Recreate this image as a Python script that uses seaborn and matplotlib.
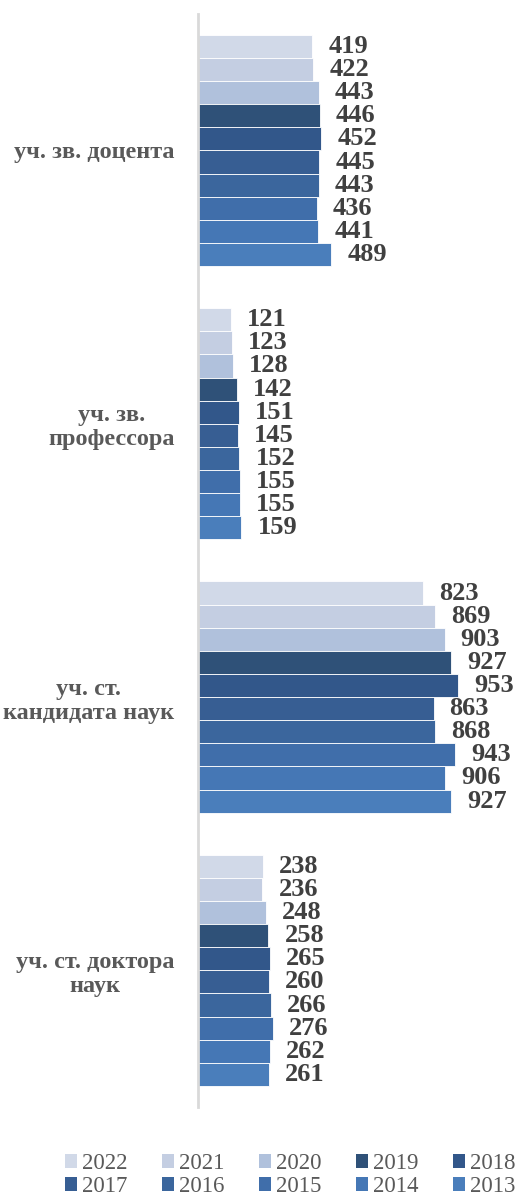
import matplotlib
matplotlib.use("Agg")
import matplotlib.pyplot as plt
from matplotlib.patches import Patch
import seaborn as sns
import pandas as pd

categories = ["уч. зв. доцента", "уч. зв.\nпрофессора", "уч. ст.\nкандидата наук", "уч. ст. доктора\nнаук"]
years = ["2022", "2021", "2020", "2019", "2018", "2017", "2016", "2015", "2014", "2013"]
values = {
    "2022": [419, 121, 823, 238],
    "2021": [422, 123, 869, 236],
    "2020": [443, 128, 903, 248],
    "2019": [446, 142, 927, 258],
    "2018": [452, 151, 953, 265],
    "2017": [445, 145, 863, 260],
    "2016": [443, 152, 868, 266],
    "2015": [436, 155, 943, 276],
    "2014": [441, 155, 906, 262],
    "2013": [489, 159, 927, 261],
}
colors = ["#D1D9E8", "#C4CEE2", "#B0C1DC", "#2F5178", "#32578A",
          "#375E93", "#3B669D", "#406EAA", "#4577B5", "#4A7EBB"]

rows = []
for y in years:
    for c, v in zip(categories, values[y]):
        rows.append({"cat": c, "year": y, "value": v})
df = pd.DataFrame(rows)

sns.set_theme(style="white")
plt.rcParams["font.family"] = ["Liberation Serif", "DejaVu Serif"]

fig = plt.figure(figsize=(5.17, 11.98), dpi=100)
ax = fig.add_axes([198/517, 1 - 1107/1198, 1 - 198/517, (1107 - 13.8)/1198])

palette = dict(zip(years, colors))
sns.barplot(data=df, y="cat", x="value", hue="year", hue_order=years, order=categories,
            palette=palette, saturation=1, orient="h", width=0.846, gap=0, dodge=True,
            edgecolor="white", linewidth=0.6, errorbar=None, legend=False, ax=ax)

for cont in ax.containers:
    ax.bar_label(cont, padding=11.5, fontsize=19, fontweight="bold", color="#404040",
                 family=["Liberation Serif"])

ax.set_xlim(0, (517 - 198) / 0.273)
ax.set_ylim(3.5, -0.5)
ax.set_xlabel("")
ax.set_ylabel("")
ax.set_xticks([])
for s in ["top", "right", "bottom"]:
    ax.spines[s].set_visible(False)
ax.spines["left"].set_color("#D9D9D9")
ax.spines["left"].set_linewidth(2)
ax.tick_params(axis="y", length=0, pad=17)
for lbl in ax.get_yticklabels():
    lbl.set_fontsize(17.5)
    lbl.set_fontweight("bold")
    lbl.set_color("#595959")
    lbl.set_multialignment("center")

order = []
for j in range(5):
    order += [j, j + 5]
handles = [Patch(facecolor=colors[i], edgecolor="none", label=years[i]) for i in order]
fig.legend(handles=handles, loc="center", bbox_to_anchor=(290/517, 1 - 1175/1198), ncol=5,
           frameon=False, fontsize=16.5, labelcolor="#595959", handlelength=0.55,
           handleheight=0.55, handletextpad=0.2, columnspacing=1.5, labelspacing=0.1)

fig.savefig("out.png", dpi=100)
